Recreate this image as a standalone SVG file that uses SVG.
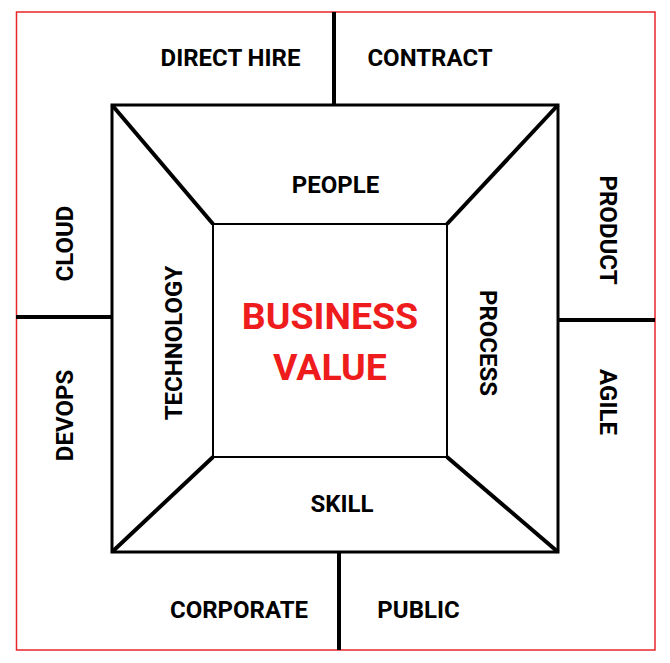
<svg xmlns="http://www.w3.org/2000/svg" width="670" height="663" viewBox="0 0 670 663">
<style>
.t{font-family:Roboto,"Liberation Sans",sans-serif;font-weight:bold;font-size:24px;fill:#000;text-anchor:middle}
.big{font-family:Roboto,"Liberation Sans",sans-serif;font-weight:bold;font-size:37.5px;fill:#ee1c1c;text-anchor:middle}
.thick{stroke:#000;stroke-width:4;fill:none}
.med{stroke:#000;stroke-width:3;fill:none}
.thin{stroke:#000;stroke-width:2;fill:none}
</style>
<rect x="0" y="0" width="670" height="663" fill="#fff"/>
<rect id="frame" x="16.5" y="12" width="638.5" height="638" fill="none" stroke="#e8262b" stroke-width="1.5"/>
<g id="connectors">
<line class="thick" x1="334" y1="12" x2="334" y2="105"/>
<line class="thick" x1="339" y1="552" x2="339" y2="650"/>
<line class="thick" x1="16" y1="317" x2="112" y2="317"/>
<line class="thick" x1="558" y1="320" x2="655" y2="320"/>
<line class="thick" x1="112" y1="105" x2="213" y2="224"/>
<line class="thick" x1="558" y1="105" x2="447" y2="224"/>
<line class="thick" x1="112" y1="552" x2="213" y2="457"/>
<line class="thick" x1="558" y1="552" x2="447" y2="457"/>
</g>
<g id="outer-square"><rect class="med" x="112" y="105" width="446" height="447"/></g>
<g id="business-value">
<rect class="thin" x="213" y="224" width="234" height="233" fill="#fff"/>
<text class="big" x="330" y="328.5">BUSINESS</text>
<text class="big" x="330" y="379.5">VALUE</text>
</g>
<g id="people"><text class="t" x="335.5" y="193">PEOPLE</text></g>
<g id="skill"><text class="t" x="342" y="512">SKILL</text></g>
<g id="technology"><text class="t" transform="translate(181.5,343) rotate(-90)">TECHNOLOGY</text></g>
<g id="process"><text class="t" transform="translate(480,343) rotate(90)">PROCESS</text></g>
<g id="direct-hire"><text class="t" x="230.5" y="66">DIRECT HIRE</text></g>
<g id="contract"><text class="t" x="430" y="66">CONTRACT</text></g>
<g id="corporate"><text class="t" x="239" y="618">CORPORATE</text></g>
<g id="public"><text class="t" x="418.5" y="618">PUBLIC</text></g>
<g id="cloud"><text class="t" transform="translate(72.5,243.5) rotate(-90)">CLOUD</text></g>
<g id="devops"><text class="t" transform="translate(72.5,415.5) rotate(-90)">DEVOPS</text></g>
<g id="product"><text class="t" transform="translate(600,230) rotate(90)">PRODUCT</text></g>
<g id="agile"><text class="t" transform="translate(600,402) rotate(90)">AGILE</text></g>
</svg>
